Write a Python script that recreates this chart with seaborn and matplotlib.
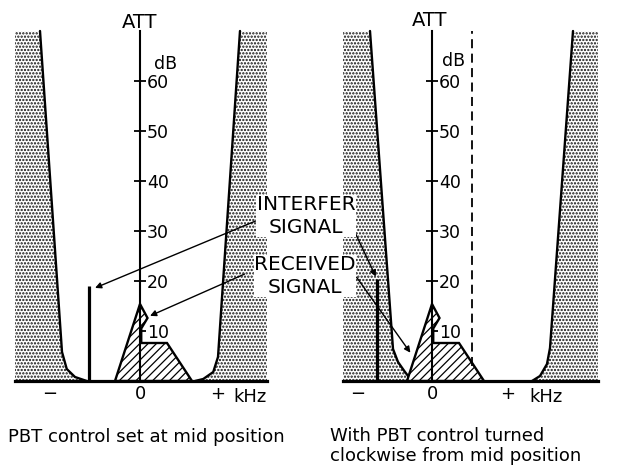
import numpy as np
import matplotlib
matplotlib.use("Agg")
import matplotlib.pyplot as plt
import seaborn as sns

# filter skirts (x in arbitrary kHz units, y in dB attenuation)
mid_lo_x = [-4.0, -3.12, -2.93, -2.6, -2.13]
mid_lo_y = [70, 5.8, 2.4, 0.8, 0]
mid_hi_x = [2.2, 2.53, 2.93, 3.12, 4.0]
mid_hi_y = [0, 0.4, 1.8, 4.8, 70]

cw_lo_x = [-2.48, -1.56, -1.36, -1.08, -0.8]
cw_lo_y = [70, 6.4, 3.8, 1.8, 0]
cw_hi_x = [4.0, 4.32, 4.6, 4.72, 5.64]
cw_hi_y = [0, 1.0, 3.4, 6.6, 70]

# received signal spectrum
sig_x = [-1.0, 0.0, 0.3, 0.05, 0.05, 1.08, 2.08]
sig_y = [0, 15.4, 12.6, 10.5, 7.6, 7.6, 0]

# interfering carrier
intf_x = [-2.05, -2.2]
intf_y = [19.0, 20.5]

db_ticks = [10, 20, 30, 40, 50, 60]
khz_ticks_mid = [-3.6, 0, 3.12]
khz_ticks_cw = [-2.96, 0, 3.04]
khz_labels = ['\u2212', '0', '+']
dashed_x = 1.6

sns.set_theme(style='white')
plt.rcParams['font.family'] = ['DejaVu Sans']
plt.rcParams['text.color'] = 'black'
plt.rcParams['xtick.color'] = 'black'
plt.rcParams['ytick.color'] = 'black'
plt.rcParams['hatch.color'] = 'black'

fig = plt.figure(figsize=(6.24, 4.66), dpi=100)
ax1 = fig.add_axes([15 / 624, 75 / 466, 252 / 624, 380 / 466])
ax2 = fig.add_axes([343 / 624, 75 / 466, 255 / 624, 380 / 466])
ax1.set_xlim(-5.0, 5.08)
ax2.set_xlim(-3.56, 6.64)


def draw_panel(ax, lo_x, lo_y, hi_x, hi_y, ix, iy, xt):
    ax.set_ylim(-2, 74)
    x0, x1 = ax.get_xlim()
    # stippled stop band
    plt.rcParams['hatch.linewidth'] = 1.1
    ax.fill([x0] + lo_x + [x0], [70] + lo_y + [0], facecolor='white',
            edgecolor='#111111', hatch='.....', lw=0, zorder=1)
    ax.fill(hi_x + [x1, x1], hi_y + [70, 0], facecolor='white',
            edgecolor='#111111', hatch='.....', lw=0, zorder=1)
    sns.lineplot(x=lo_x, y=lo_y, sort=False, estimator=None, color='black',
                 lw=1.7, ax=ax, zorder=3)
    sns.lineplot(x=hi_x, y=hi_y, sort=False, estimator=None, color='black',
                 lw=1.7, ax=ax, zorder=3)
    # received signal
    plt.rcParams['hatch.linewidth'] = 0.9
    ax.fill(sig_x, sig_y, facecolor='white', edgecolor='black', hatch='////',
            lw=1.7, zorder=4)
    # interfering carrier
    ax.vlines(ix, 0, iy, color='black', lw=2.3, zorder=5)

    for s in ['top', 'left']:
        ax.spines[s].set_visible(False)
    ax.spines['right'].set_position(('data', 0))
    ax.spines['right'].set_bounds(0, 70)
    ax.spines['right'].set_linewidth(1.5)
    ax.spines['right'].set_color('black')
    ax.spines['right'].set_zorder(6)
    ax.spines['bottom'].set_position(('data', 0))
    ax.spines['bottom'].set_linewidth(2.3)
    ax.spines['bottom'].set_color('black')
    ax.spines['bottom'].set_zorder(6)
    ax.yaxis.set_ticks_position('right')
    ax.set_yticks(db_ticks)
    ax.set_yticklabels([str(t) for t in db_ticks])
    ax.tick_params(axis='y', direction='inout', length=8, width=1.3,
                   pad=1, labelsize=12.5)
    for lab in ax.get_yticklabels():
        lab.set_bbox(dict(facecolor='white', edgecolor='none', pad=0.3))
        lab.set_zorder(7)
    ax.set_xticks(xt)
    ax.set_xticklabels(khz_labels)
    ax.tick_params(axis='x', length=0, pad=3, labelsize=13)
    ax.set_xlabel('')
    ax.set_ylabel('')
    ax.grid(False)
    ax.patch.set_alpha(0)


draw_panel(ax1, mid_lo_x, mid_lo_y, mid_hi_x, mid_hi_y,
           intf_x[0], intf_y[0], khz_ticks_mid)
draw_panel(ax2, cw_lo_x, cw_lo_y, cw_hi_x, cw_hi_y,
           intf_x[1], intf_y[1], khz_ticks_cw)

# PBT shifted edge
ax2.vlines(dashed_x, 3, 70, color='black', lw=1.3, linestyles=(0, (5, 3)), zorder=5)

ax1.text(0, 71.7, 'ATT', ha='center', va='center', fontsize=14)
ax2.text(-0.1, 72.0, 'ATT', ha='center', va='center', fontsize=14)
ax1.text(1.04, 63.4, 'dB', ha='center', va='center', fontsize=12.5)
ax2.text(0.88, 64.0, 'dB', ha='center', va='center', fontsize=12.5)
ax1.text(4.4, -3.1, 'kHz', ha='center', va='center', fontsize=13)
ax2.text(4.55, -3.1, 'kHz', ha='center', va='center', fontsize=13)

# labels between the panels
fig.text(306 / 624, 1 - 216 / 466, 'INTERFER\nSIGNAL', ha='center', va='center',
         fontsize=14.5, linespacing=1.25,
         bbox=dict(facecolor='white', edgecolor='none', pad=0.5), zorder=8)
fig.text(305 / 624, 1 - 276 / 466, 'RECEIVED\nSIGNAL', ha='center', va='center',
         fontsize=14.5, linespacing=1.25,
         bbox=dict(facecolor='white', edgecolor='none', pad=0.5), zorder=8)

arrow = dict(arrowstyle='-|>', color='black', lw=1.0, mutation_scale=9)
ax1.annotate('', xy=(-1.9, 18.4), xycoords='data', xytext=(258, 246),
             textcoords='figure pixels', arrowprops=arrow, zorder=9)
ax1.annotate('', xy=(0.3, 12.8), xycoords='data', xytext=(247, 193),
             textcoords='figure pixels', arrowprops=arrow, zorder=9)
ax2.annotate('', xy=(-2.2, 20.4), xycoords='data', xytext=(350, 244),
             textcoords='figure pixels', arrowprops=arrow, zorder=9)
ax2.annotate('', xy=(-0.8, 5.2), xycoords='data', xytext=(355, 191),
             textcoords='figure pixels', arrowprops=arrow, zorder=9)

fig.text(8 / 624, 1 - 437 / 466, 'PBT control set at mid position',
         ha='left', va='center', fontsize=13)
fig.text(330 / 624, 1 - 446 / 466, 'With PBT control turned\nclockwise from mid position',
         ha='left', va='center', fontsize=13, linespacing=1.2)

fig.savefig('out.png', dpi=100)
